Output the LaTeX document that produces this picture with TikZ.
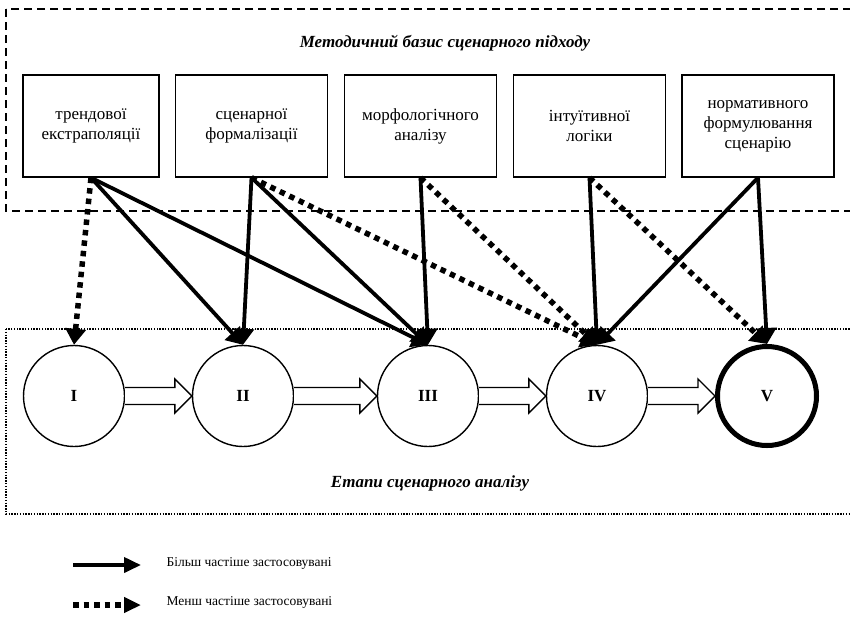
\documentclass[tikz,border=0pt]{standalone}
\usepackage{fontspec}
\setmainfont{Liberation Serif}
\usetikzlibrary{arrows.meta,calc}

\begin{document}
\begin{tikzpicture}[
  x=1pt, y=-1pt,
  every node/.style={font=\fontsize{17}{20}\selectfont},
  meth/.style={draw, line width=1.4pt, minimum width=152pt, minimum height=102pt, align=center, inner sep=2pt},
  stage/.style={draw, circle, line width=1.4pt, minimum size=101pt, inner sep=0pt, font=\fontsize{17}{20}\selectfont\bfseries},
  heading/.style={font=\fontsize{17}{20}\selectfont\bfseries\itshape},
  often/.style={line width=3.8pt, -{Triangle[length=16pt,width=20pt]}},
  rare/.style={line width=5.5pt, dash pattern=on 5.5pt off 5pt, -{Triangle[length=16pt,width=20pt]}},
  keytip/.style={-{Triangle[length=17pt,width=15pt]}},
  hollow/.style={draw, line width=1.4pt, fill=white},
  basis/.style={line width=1.5pt, dash pattern=on 8pt off 5pt},
  stages/.style={line width=1.4pt, dash pattern=on 1.4pt off 1.4pt}
]
\useasboundingbox (0,0) rectangle (850,625);

% frames run past the right edge
\draw[basis] (6,9) rectangle (870,211);
\draw[stages] (6,329) rectangle (870,514);
\node[heading] (basetitle) at (445,43) {Методичний базис сценарного підходу};
\node[heading] (stagetitle) at (430,483) {Етапи сценарного аналізу};

\node[meth, minimum width=136pt] (m1) at (91,126) {трендової\\екстраполяції};
\node[meth] (m2) at (251.5,126) {сценарної\\формалізації};
\node[meth] (m3) at (420.5,126) {морфологічного\\аналізу};
\node[meth] (m4) at (589.5,126) {інтуїтивної\\логіки};
\node[meth] (m5) at (758,126) {нормативного\\формулювання\\сценарію};

\node[stage] (s1) at (74,396) {I};
\node[stage] (s2) at (243,396) {II};
\node[stage] (s3) at (428,396) {III};
\node[stage] (s4) at (597,396) {IV};
\node[stage, line width=5pt, minimum size=99pt] (s5) at (767,396) {V};

\foreach \p/\q in {s1/s2,s2/s3,s3/s4,s4/s5}
  \draw[hollow] ($(\p.east)+(0,-8.5)$) -- ($(\q.west)+(-17,-8.5)$) -- ($(\q.west)+(-17,-17)$)
    -- (\q.west) -- ($(\q.west)+(-17,17)$) -- ($(\q.west)+(-17,8.5)$) -- ($(\p.east)+(0,8.5)$);

\draw[rare] (m1.south) -- (s1.north);
\draw[often] (m1.south) -- (s2.north);
\draw[often] (m1.south) -- (s3.north);
\draw[often] (m2.south) -- (s2.north);
\draw[often] (m2.south) -- (s3.north);
\draw[rare] (m2.south) -- (s4.north);
\draw[often] (m3.south) -- (s3.north);
\draw[rare] (m3.south) -- (s4.north);
\draw[often] (m4.south) -- (s4.north);
\draw[rare] (m4.south) -- (s5.north);
\draw[often] (m5.south) -- (s4.north);
\draw[often] (m5.south) -- (s5.north);

% legend
\coordinate (k1a) at (73,565);
\coordinate (k1b) at (141,565);
\coordinate (k2a) at (73,605);
\coordinate (k2b) at (141,605);
\draw[often, keytip] (k1a) -- (k1b);
\draw[rare, keytip] (k2a) -- (k2b);
\node[anchor=west, font=\fontsize{13.5}{16}\selectfont] (k1t) at (163,563) {Більш частіше застосовувані};
\node[anchor=west, font=\fontsize{13.5}{16}\selectfont] (k2t) at (163,602) {Менш частіше застосовувані};
\end{tikzpicture}
\end{document}
